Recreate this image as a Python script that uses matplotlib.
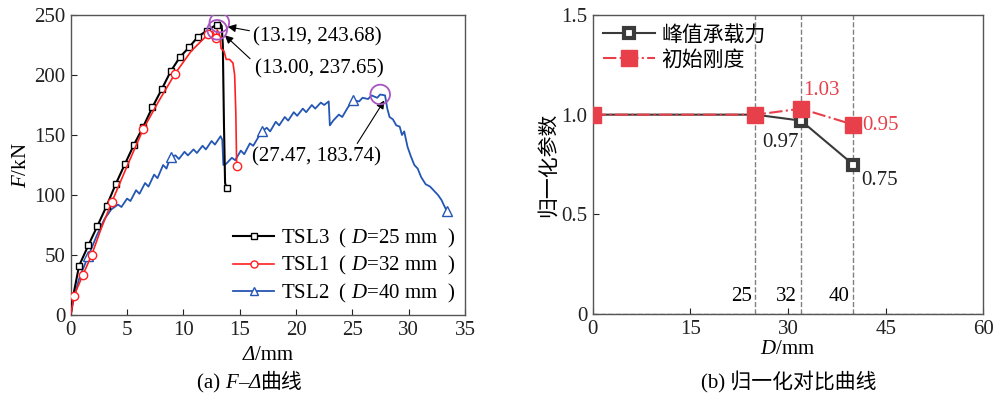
import matplotlib
matplotlib.use("Agg")
import matplotlib.pyplot as plt

plt.rcParams['font.family'] = ['Liberation Serif', 'Noto Sans CJK SC']
plt.rcParams['mathtext.fontset'] = 'custom'
plt.rcParams['mathtext.rm'] = 'Liberation Serif'
plt.rcParams['mathtext.it'] = 'Liberation Serif:italic'
plt.rcParams['font.size'] = 15

# (a) 荷载-位移曲线
tsl3_x = [0, 0.2, 0.74, 1.56, 2.36, 3.19, 3.99, 4.82, 5.62, 6.44, 7.24, 8.07, 8.87, 9.7,
          10.5, 11.3, 12.1, 12.95, 13.19, 13.4, 13.5, 13.6, 13.7, 13.84]
tsl3_y = [0, 15, 41, 58, 74, 91, 109, 126, 142, 157, 173, 188, 203, 215,
          223, 232, 237, 242, 243.68, 241, 225, 160, 110, 105.5]
tsl3_mk = list(range(2, 18)) + [23]

tsl1_x = [0, 0.29, 1.06, 1.86, 2.7, 3.64, 5.0, 6.44, 7.8, 9.25, 10.7, 12.2, 12.6, 12.9,
          13.0, 13.2, 13.35, 13.6, 13.8, 14.1, 14.4, 14.55, 14.65, 14.73]
tsl1_y = [0, 16, 33, 50, 72, 94, 124, 155, 178, 201, 220, 234, 236, 231,
          237.65, 234, 222, 220, 213, 213, 210, 200, 170, 124]
tsl1_mk = [1, 2, 3, 5, 7, 9, 11, 13, 23]

tsl2_x = [0, 0.3, 0.8, 1.56, 2.3, 3.0, 3.6, 4.2, 4.5, 5.0, 5.3, 5.8, 6.1, 6.6, 6.9, 7.4,
          7.7, 8.2, 8.5, 8.87, 9.3, 9.6, 10.1, 10.4, 10.9, 11.2, 11.7, 12.0, 12.5, 12.8,
          13.3, 13.45, 13.55, 13.8, 14.3, 14.6, 15.1, 15.4, 15.9, 16.2, 16.95, 17.4, 17.7,
          18.2, 18.5, 19.0, 19.3, 19.8, 20.1, 20.6, 20.9, 21.4, 21.7, 22.2, 22.5, 22.9,
          23.0, 23.3, 23.8, 24.1, 24.6, 25.08, 25.6, 25.9, 26.4, 26.7, 27.2, 27.47, 27.9,
          28.1, 28.3, 28.6, 28.9, 29.2, 29.4, 29.6, 29.9, 30.2, 30.5, 30.8, 31.1, 31.5,
          31.9, 32.3, 32.6, 32.9, 33.1, 33.36, 33.6]
tsl2_y = [0, 15, 32, 49, 66, 80, 88, 92, 90, 97, 95, 104, 101, 110, 107, 117,
          114, 125, 122, 132, 133, 130, 136, 133, 138, 135, 141, 138, 145, 142,
          149, 146, 125, 126, 131, 129, 137, 134, 143, 141, 153, 156, 153,
          161, 158, 165, 162, 169, 166, 172, 169, 175, 172, 177, 175, 178,
          158, 162, 167, 165, 173, 179, 178, 181, 180, 183, 181, 183.74, 183,
          172, 165, 163, 158, 157, 150, 153, 140, 132, 125, 122, 115, 109,
          107, 103, 100, 96, 92, 87, 86]
tsl2_mk = [3, 19, 40, 61, 87]

peaks_x = [13.19, 13.00, 27.47]
peaks_y = [243.68, 237.65, 183.74]
peak_txt = [(16.2, 231.7), (16.4, 205.5), (16.1, 131.5)]
peak_tail = [(16.1, 236.5), (16.1, 212.0), (25.3, 141.0)]

# (b) 归一化对比
D = [0, 25, 32, 40]
peak_load = [1.0, 1.0, 0.97, 0.75]
init_stiff = [1.0, 1.0, 1.03, 0.95]

fig = plt.figure(figsize=(9.99, 4.0), dpi=100)
ax1 = fig.add_axes([0.0708, 0.2125, 0.3947, 0.75])
ax2 = fig.add_axes([0.5933, 0.215, 0.391, 0.7475])


def rich_text(xc, yb, parts):
    # 把几段不同字形的文字按基线拼成一行, 整体居中
    r = fig.canvas.get_renderer()
    W = fig.bbox.width
    texts = [fig.text(0, yb, s, va='baseline', ha='left', fontsize=15, **kw)
             for s, kw in parts]
    widths = [t.get_window_extent(r).width for t in texts]
    x0 = xc * W - sum(widths) / 2
    for t, w in zip(texts, widths):
        t.set_position((x0 / W, yb))
        x0 += w


ax1.plot(tsl3_x, tsl3_y, color='black', lw=1.5, marker='s', ms=5, mfc='white',
         mew=1.0, markevery=tsl3_mk, label='TSL3  ( $D$=25 mm  )', zorder=3)
ax1.plot(tsl1_x, tsl1_y, color='#ff2020', lw=1.2, marker='o', ms=6, mfc='white',
         mew=1.0, markevery=tsl1_mk, label='TSL1  ( $D$=32 mm  )', zorder=4)
ax1.plot(tsl2_x, tsl2_y, color='#2456b4', lw=1.3, marker='^', ms=7, mfc='white',
         mew=1.0, markevery=tsl2_mk, label='TSL2  ( $D$=40 mm  )', zorder=2)

ax1.scatter(peaks_x, peaks_y, s=200, facecolors='none', edgecolors='#a855c0',
            linewidths=1.3, zorder=5)
for (px, py), (tx, ty), (lx, ly) in zip(zip(peaks_x, peaks_y), peak_txt, peak_tail):
    ax1.annotate('', xy=(px + 0.5, py - 3), xytext=(lx, ly),
                 arrowprops=dict(arrowstyle='-|>', color='black', lw=0.8,
                                 mutation_scale=12))
    ax1.text(tx, ty, f'({px:.2f}, {py:.2f})', ha='left', va='center', fontsize=15)

ax1.set_xlim(0, 35)
ax1.set_ylim(0, 250)
ax1.set_xticks(range(0, 36, 5))
ax1.set_yticks(range(0, 251, 50))
ax1.set_ylabel('$F$/kN', labelpad=2)
ax1.legend(loc='lower right', frameon=False, handlelength=2.0, handletextpad=0.3,
           labelspacing=0.2, borderaxespad=0.1, fontsize=15, markerscale=0.85)

ax2.axhline(0, color='gray', ls='--', lw=1.0, zorder=1)
for d in D[1:]:
    ax2.axvline(d, color='gray', ls='--', lw=1.0, zorder=1)
    ax2.text(d - 0.6, 0.09, str(d), ha='right', va='center', fontsize=15)

ax2.plot(D, peak_load, color='#3a3a3a', lw=1.5, marker='s', ms=7, mfc='white',
         mec='#3a3a3a', mew=3.0, label='峰值承载力', zorder=3)
ax2.plot(D, init_stiff, color='#e8404a', lw=1.5, ls='-.', marker='s', ms=11,
         mfc='#e8404a', mec='#e8404a', label='初始刚度', zorder=4)

ax2.text(32.4, 1.12, f'{init_stiff[2]:.2f}', color='#e8404a', ha='left', va='center')
ax2.text(41.4, 0.945, f'{init_stiff[3]:.2f}', color='#e8404a', ha='left', va='center')
ax2.text(26.0, 0.86, f'{peak_load[2]:.2f}', color='#222222', ha='left', va='center')
ax2.text(41.2, 0.67, f'{peak_load[3]:.2f}', color='#222222', ha='left', va='center')

ax2.set_xlim(0, 60)
ax2.set_ylim(0, 1.5)
ax2.set_xticks([0, 15, 30, 45, 60])
ax2.set_yticks([0, 0.5, 1.0, 1.5])
ax2.set_yticklabels(['0', '0.5', '1.0', '1.5'])
ax2.set_xlabel('$D$/mm', labelpad=1)
ax2.set_ylabel('归一化参数', labelpad=2)
ax2.legend(loc='upper left', frameon=False, handlelength=2.5, handletextpad=0.3,
           labelspacing=0.25, borderaxespad=0.1, fontsize=15)

for ax in (ax1, ax2):
    ax.tick_params(direction='in', length=4, width=0.8, pad=4, colors='#222222')
    for s in ax.spines.values():
        s.set_color('#555555')
        s.set_linewidth(1.0)

# 轴标题与子图标题 (Δ 需要斜体)
rich_text(0.268, 0.1, [('Δ', dict(style='italic')), ('/mm', {})])
rich_text(0.25, 0.03, [('(a) ', {}), ('F', dict(style='italic')), ('–', {}),
                       ('Δ', dict(style='italic')), ('曲线', {})])
rich_text(0.79, 0.03, [('(b) 归一化对比曲线', {})])

fig.savefig('out.png', dpi=100)
